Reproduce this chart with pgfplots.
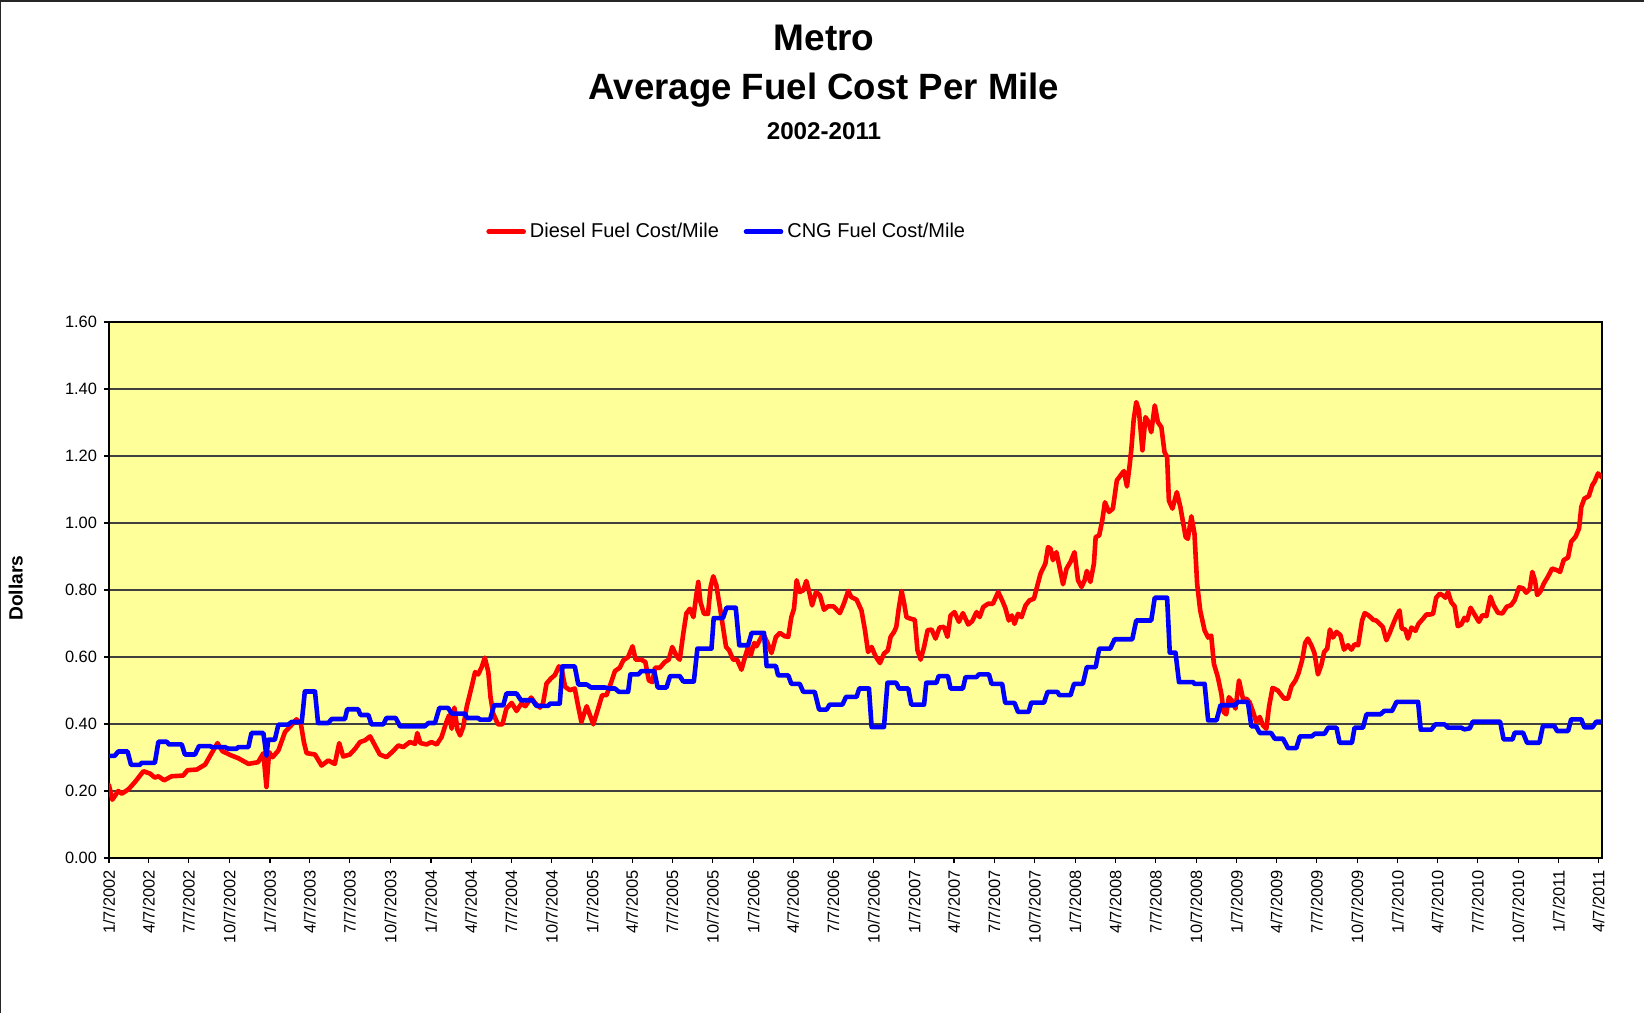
\documentclass[border=0pt]{standalone}
\usepackage{fontspec}
\setmainfont{Liberation Sans}
\usepackage{pgfplots}
\usepackage{pgfplotstable}
\pgfplotsset{compat=1.18}
\definecolor{plotbg}{RGB}{255,255,153}
\definecolor{dieselred}{RGB}{255,0,0}
\definecolor{cngblue}{RGB}{0,0,255}

% x = days since 1/7/2002, y = dollars per mile
\pgfplotstableread{
d v
0 0.217
7.5 0.174
21 0.200
29 0.192
44 0.205
59 0.227
78 0.259
93 0.252
104 0.240
112 0.244
125 0.232
142 0.244
168 0.246
178 0.262
199 0.264
218 0.279
231 0.309
246 0.343
257 0.319
274 0.308
293 0.298
316 0.281
338 0.286
350 0.313
357 0.212
363 0.316
371 0.301
384 0.321
399 0.376
413 0.396
425 0.414
435 0.401
442 0.345
448 0.313
467 0.309
482 0.276
497 0.291
512 0.281
522 0.343
531 0.303
546 0.309
558 0.326
569 0.346
580 0.351
592 0.363
603 0.336
614 0.309
629 0.301
644 0.319
656 0.336
667 0.331
682 0.346
694 0.341
699 0.373
706 0.343
720 0.339
731 0.346
743 0.339
754 0.361
765 0.406
771 0.426
777 0.386
783 0.449
790 0.383
796 0.366
803 0.391
811 0.451
822 0.510
830 0.555
837 0.548
845 0.570
852 0.598
860 0.555
865 0.480
871 0.431
882 0.399
892 0.399
901 0.446
913 0.463
924 0.439
935 0.461
944 0.453
957 0.479
966 0.463
977 0.449
984 0.461
992 0.521
1002 0.536
1011 0.546
1020 0.572
1026 0.565
1034 0.511
1045 0.501
1056 0.506
1064 0.451
1071 0.406
1083 0.453
1098 0.399
1109 0.446
1118 0.486
1128 0.486
1139 0.526
1147 0.558
1158 0.568
1166 0.590
1177 0.600
1187 0.632
1194 0.592
1207 0.592
1216 0.585
1224 0.530
1232 0.525
1238 0.568
1249 0.568
1260 0.585
1269 0.592
1277 0.630
1287 0.602
1294 0.592
1302 0.670
1309 0.730
1317 0.744
1325 0.719
1331 0.779
1336 0.824
1341 0.764
1349 0.729
1358 0.729
1364 0.809
1370 0.841
1377 0.814
1385 0.749
1392 0.690
1399 0.630
1406 0.620
1415 0.592
1424 0.592
1434 0.562
1442 0.600
1449 0.630
1455 0.605
1463 0.642
1468 0.632
1476 0.652
1483 0.670
1492 0.645
1502 0.612
1512 0.660
1521 0.672
1532 0.662
1540 0.660
1547 0.719
1553 0.744
1559 0.829
1566 0.794
1574 0.799
1581 0.827
1587 0.797
1594 0.754
1603 0.794
1612 0.784
1621 0.741
1630 0.751
1643 0.751
1657 0.731
1666 0.759
1676 0.797
1683 0.779
1695 0.771
1706 0.739
1714 0.680
1721 0.615
1729 0.630
1738 0.602
1748 0.582
1757 0.610
1766 0.620
1772 0.660
1780 0.675
1785 0.690
1791 0.749
1797 0.797
1803 0.759
1808 0.719
1818 0.714
1827 0.711
1833 0.620
1840 0.592
1848 0.630
1856 0.680
1865 0.682
1874 0.655
1883 0.688
1893 0.690
1901 0.660
1908 0.724
1917 0.734
1927 0.705
1936 0.731
1948 0.697
1957 0.707
1967 0.734
1974 0.719
1982 0.749
1993 0.759
2004 0.759
2016 0.794
2025 0.769
2032 0.747
2040 0.709
2047 0.724
2053 0.699
2061 0.729
2069 0.719
2078 0.754
2087 0.769
2097 0.774
2105 0.814
2112 0.849
2123 0.879
2129 0.928
2135 0.923
2140 0.889
2148 0.913
2155 0.869
2163 0.817
2171 0.864
2180 0.884
2189 0.913
2197 0.829
2205 0.809
2212 0.829
2217 0.857
2225 0.824
2233 0.878
2237 0.958
2245 0.963
2252 1.008
2258 1.062
2267 1.033
2276 1.043
2285 1.127
2295 1.145
2301 1.155
2308 1.109
2314 1.172
2318 1.222
2323 1.306
2329 1.361
2335 1.336
2343 1.217
2350 1.316
2357 1.301
2363 1.271
2371 1.351
2378 1.301
2386 1.286
2393 1.212
2399 1.197
2403 1.067
2411 1.043
2421 1.092
2429 1.048
2441 0.958
2446 0.953
2454 1.020
2461 0.968
2467 0.819
2474 0.739
2484 0.679
2492 0.658
2499 0.664
2505 0.580
2514 0.540
2522 0.490
2527 0.436
2533 0.429
2539 0.480
2547 0.468
2554 0.446
2562 0.530
2571 0.475
2579 0.475
2586 0.465
2594 0.436
2601 0.406
2609 0.421
2616 0.396
2624 0.386
2630 0.451
2638 0.508
2650 0.500
2664 0.476
2673 0.476
2681 0.513
2690 0.530
2697 0.552
2705 0.590
2712 0.642
2718 0.655
2726 0.635
2733 0.612
2741 0.548
2749 0.578
2755 0.615
2762 0.625
2768 0.682
2775 0.658
2783 0.675
2792 0.665
2800 0.622
2809 0.635
2817 0.622
2824 0.638
2832 0.635
2841 0.709
2847 0.731
2856 0.724
2866 0.711
2873 0.709
2881 0.699
2888 0.690
2896 0.650
2903 0.670
2911 0.697
2918 0.719
2926 0.739
2931 0.685
2939 0.682
2945 0.655
2953 0.688
2962 0.678
2969 0.699
2979 0.714
2987 0.727
2996 0.727
3002 0.729
3009 0.777
3017 0.789
3024 0.784
3030 0.777
3036 0.794
3043 0.764
3051 0.751
3058 0.692
3066 0.697
3073 0.717
3079 0.709
3087 0.747
3095 0.729
3106 0.705
3114 0.725
3123 0.722
3132 0.780
3139 0.755
3149 0.732
3159 0.730
3169 0.750
3179 0.755
3187 0.770
3197 0.808
3206 0.805
3213 0.792
3221 0.802
3227 0.854
3233 0.829
3238 0.785
3245 0.795
3253 0.819
3262 0.839
3272 0.864
3283 0.859
3290 0.854
3298 0.889
3308 0.897
3315 0.944
3325 0.959
3333 0.984
3338 1.048
3345 1.073
3355 1.080
3363 1.113
3368 1.123
3376 1.148
3385 1.136
}\diesel

\pgfplotstableread{
d v
0 0.305
13 0.305
21 0.318
42 0.318
50 0.278
70 0.278
74 0.284
104 0.284
112 0.347
131 0.347
136 0.339
165 0.339
172 0.309
195 0.309
204 0.334
229 0.334
234 0.331
263 0.331
271 0.326
289 0.326
293 0.331
316 0.331
323 0.373
350 0.373
357 0.306
361 0.353
376 0.353
384 0.398
406 0.398
414 0.406
437 0.406
444 0.497
467 0.497
474 0.403
497 0.403
505 0.415
535 0.415
540 0.444
565 0.444
570 0.427
588 0.427
595 0.399
622 0.399
629 0.418
650 0.418
660 0.393
716 0.393
724 0.403
739 0.403
749 0.448
769 0.448
777 0.431
807 0.431
812 0.418
837 0.418
841 0.413
864 0.413
873 0.456
894 0.456
901 0.491
924 0.491
934 0.471
960 0.471
969 0.454
996 0.454
1000 0.461
1022 0.461
1028 0.572
1056 0.572
1064 0.518
1083 0.518
1093 0.509
1124 0.509
1136 0.506
1147 0.506
1156 0.496
1177 0.496
1182 0.548
1200 0.548
1207 0.558
1236 0.558
1244 0.509
1264 0.509
1272 0.543
1294 0.543
1302 0.527
1326 0.527
1334 0.625
1366 0.625
1371 0.716
1392 0.716
1400 0.747
1421 0.747
1429 0.635
1449 0.635
1457 0.672
1485 0.672
1491 0.573
1512 0.573
1517 0.545
1540 0.545
1547 0.520
1566 0.520
1574 0.496
1600 0.496
1610 0.443
1627 0.443
1634 0.458
1663 0.458
1671 0.481
1695 0.481
1701 0.506
1723 0.506
1729 0.391
1757 0.391
1765 0.523
1785 0.523
1791 0.506
1812 0.506
1819 0.458
1848 0.458
1853 0.523
1876 0.523
1881 0.543
1902 0.543
1908 0.506
1936 0.506
1942 0.540
1967 0.540
1972 0.548
1995 0.548
2001 0.520
2025 0.520
2032 0.463
2053 0.463
2061 0.436
2085 0.436
2091 0.464
2120 0.464
2128 0.496
2150 0.496
2155 0.486
2180 0.486
2188 0.520
2208 0.520
2217 0.570
2237 0.570
2245 0.625
2270 0.625
2280 0.653
2320 0.653
2329 0.709
2363 0.709
2371 0.777
2399 0.777
2405 0.613
2418 0.613
2426 0.525
2458 0.525
2461 0.520
2484 0.520
2492 0.411
2511 0.411
2520 0.456
2552 0.456
2560 0.466
2582 0.466
2590 0.393
2601 0.393
2609 0.373
2635 0.373
2643 0.356
2662 0.356
2673 0.328
2692 0.328
2700 0.363
2727 0.363
2734 0.371
2756 0.371
2764 0.389
2783 0.389
2790 0.344
2818 0.344
2824 0.389
2843 0.389
2851 0.429
2883 0.429
2891 0.439
2909 0.439
2919 0.466
2968 0.466
2974 0.383
2998 0.383
3007 0.399
3028 0.399
3036 0.389
3066 0.389
3073 0.384
3085 0.387
3092 0.407
3154 0.407
3162 0.354
3182 0.354
3187 0.374
3206 0.374
3215 0.344
3243 0.344
3251 0.394
3277 0.394
3283 0.379
3308 0.379
3315 0.414
3338 0.414
3345 0.390
3363 0.390
3372 0.407
3385 0.407
}\cng

\begin{document}
\begin{tikzpicture}
\path[use as bounding box] (0,0) rectangle (822pt,506.5pt);
\fill[white] (0,0) rectangle (822pt,506.5pt);
\draw[black!85, line width=2pt] (0,506.5pt) -- (822pt,506.5pt);
\draw[black!85, line width=1pt] (0,0) -- (0,506.5pt);
\begin{axis}[
  at={(54.5pt,77.5pt)}, anchor=south west,
  width=746.5pt, height=268pt, scale only axis,
  xmin=0, xmax=3385, ymin=0, ymax=1.6,
  axis background/.style={fill=plotbg},
  axis line style={black, line width=0.7pt},
  ytick={0,0.2,0.4,0.6,0.8,1.0,1.2,1.4,1.6},
  ymajorgrids, grid style={black!75, line width=0.6pt},
  tick align=outside, major tick length=2.5pt,
  tick style={black, line width=0.6pt},
  tick pos=left,
  xtick={0,90,181,273,365,455,546,638,730,821,912,1004,1096,1186,1277,1369,1461,1551,1642,1734,1826,1916,2007,2099,2191,2282,2373,2465,2557,2647,2738,2830,2922,3012,3103,3195,3287,3377},
  xticklabels={1/7/2002,4/7/2002,7/7/2002,10/7/2002,1/7/2003,4/7/2003,7/7/2003,10/7/2003,1/7/2004,4/7/2004,7/7/2004,10/7/2004,1/7/2005,4/7/2005,7/7/2005,10/7/2005,1/7/2006,4/7/2006,7/7/2006,10/7/2006,1/7/2007,4/7/2007,7/7/2007,10/7/2007,1/7/2008,4/7/2008,7/7/2008,10/7/2008,1/7/2009,4/7/2009,7/7/2009,10/7/2009,1/7/2010,4/7/2010,7/7/2010,10/7/2010,1/7/2011,4/7/2011},
  xticklabel style={rotate=90, anchor=east, font=\fontsize{8.2}{9}\selectfont},
  yticklabel style={font=\fontsize{8.2}{9}\selectfont, /pgf/number format/.cd, fixed, fixed zerofill, precision=2},
  /pgf/number format/assume math mode=true,
  legend style={at={(0.2525,1.1685)}, anchor=west, draw=none, fill=none,
    legend columns=2, inner sep=0pt, font=\fontsize{10}{12}\selectfont,
    /tikz/every even column/.append style={column sep=10.4pt}},
  legend image code/.code={\draw[#1, line width=2.3pt] (0pt,0pt) -- (17.5pt,0pt);},
]
\addplot[dieselred, line width=2.3pt, line join=round, line cap=round] table[x=d, y=v] {\diesel};
\addlegendentry{Diesel Fuel Cost/Mile}
\addplot[cngblue, line width=2.3pt, line join=round, line cap=round] table[x=d, y=v] {\cng};
\addlegendentry{CNG Fuel Cost/Mile}
\end{axis}
\node[anchor=base, font=\bfseries\fontsize{18.5}{22}\selectfont] at (412pt,481.3pt) {Metro};
\node[anchor=base, font=\bfseries\fontsize{18.3}{22}\selectfont] at (412pt,456.7pt) {Average Fuel Cost Per Mile};
\node[anchor=base, font=\bfseries\fontsize{12.1}{14}\selectfont] at (412pt,436.75pt) {2002-2011};
\node[rotate=90, font=\bfseries\fontsize{9.6}{11}\selectfont] at (7.85pt,212.4pt) {Dollars};
\end{tikzpicture}
\end{document}
